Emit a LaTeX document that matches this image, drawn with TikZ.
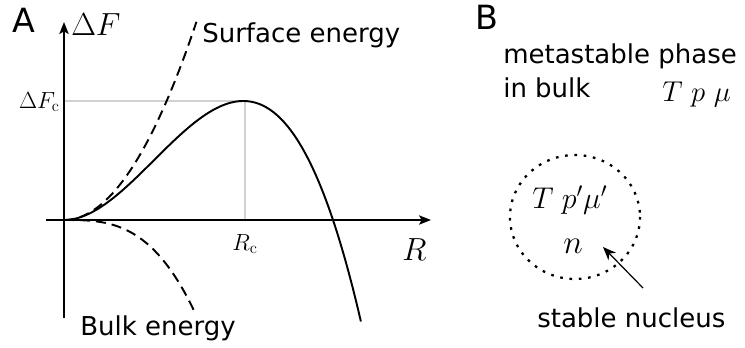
\documentclass[tikz,border=0pt]{standalone}
\usepackage{fix-cm}
\usepackage[no-math]{fontspec}
\newfontfamily\dvs{DejaVu Sans}
\usetikzlibrary{arrows.meta}
\tikzset{
  lbl/.style={inner sep=0pt, font=\dvs\fontsize{19.5}{25}\selectfont},
  panel/.style={inner sep=0pt, font=\dvs\fontsize{25}{30}\selectfont},
  mth/.style={inner sep=0pt, font=\fontsize{24}{28}\selectfont},
  mths/.style={inner sep=0pt, font=\fontsize{17.5}{20}\selectfont},
  mthm/.style={inner sep=0pt, font=\fontsize{21.5}{26}\selectfont},
  axis/.style={line width=1.3pt, -{Stealth[length=9pt,width=7pt,inset=2pt]}},
  guide/.style={line width=1.5pt, color=black!18},
  curve/.style={line width=1.45pt},
  dcurve/.style={line width=1.45pt, dash pattern=on 7.5pt off 4.5pt},
  dotc/.style={line width=1.7pt, dash pattern=on 2pt off 5pt},
  pointer/.style={line width=0.9pt, -{Stealth[length=10pt,width=8pt]}}
}
\begin{document}
\begin{tikzpicture}[x=0.75pt,y=-0.75pt]
\useasboundingbox (0,0) rectangle (745,347);
% guides
\coordinate (o) at (64,220);
\coordinate (pk) at (245,101);
\coordinate (yk) at (64,101);
\coordinate (xk) at (245,220);
\draw[guide] (yk) -- (pk) -- (xk);
% axes
\coordinate (ybot) at (64,318);
\coordinate (ytop) at (64,22);
\coordinate (xl) at (46,220);
\coordinate (xr) at (431,220);
\draw[axis] (ybot) -- (ytop);
\draw[axis] (xl) -- (xr);
% curves
\draw[curve] plot[domain=0:2.97, samples=120, smooth] ({64+100*\x}, {220-41.27*\x*\x*(2.69-\x)});
\draw[dcurve] plot[domain=0:1.325, samples=60, smooth] ({64+100*\x}, {220-113*\x*\x});
\draw[dcurve] plot[domain=0:1.306, samples=60, smooth] ({64+100*\x}, {220+41.27*\x*\x*\x});
% labels A
\node[panel, anchor=base west] (A) at (12,32) {A};
\node[mth, anchor=base west] (dF) at (71,35) {$\Delta F$};
\node[lbl, anchor=base west] (surf) at (202,42) {Surface energy};
\node[mths, anchor=base east] (dFc) at (60,108) {$\Delta F_{\mathrm{c}}$};
\node[mths, anchor=base] (Rc) at (245,250) {$R_{\mathrm{c}}$};
\node[mth, anchor=base west] (R) at (402,260) {$R$};
\node[lbl, anchor=base west] (bulk) at (80,335) {Bulk energy};
% panel B
\node[panel, anchor=base west] (B) at (475,29) {B};
\node[lbl, anchor=base west] (meta) at (503,63) {metastable phase};
\node[lbl, anchor=base west] (inb) at (503,97) {in bulk};
\node[mthm, anchor=base west] (tpm) at (662,101) {$T\ p\ \mu$};
\coordinate (nucc) at (575,217);
\draw[dotc] (nucc) ellipse [x radius=65, y radius=62];
\node[mthm, font=\fontsize{22.5}{26}\selectfont, anchor=base west] (tpm2) at (532,208) {$T\;p'\mu'$};
\node[mthm, font=\fontsize{25}{28}\selectfont, anchor=base] (n) at (573,253) {$n$};
\node[lbl, anchor=base west] (stab) at (537,327) {stable nucleus};
\coordinate (as) at (643,288);
\coordinate (at) at (603,247);
\draw[pointer] (as) -- (at);
\end{tikzpicture}
\end{document}
